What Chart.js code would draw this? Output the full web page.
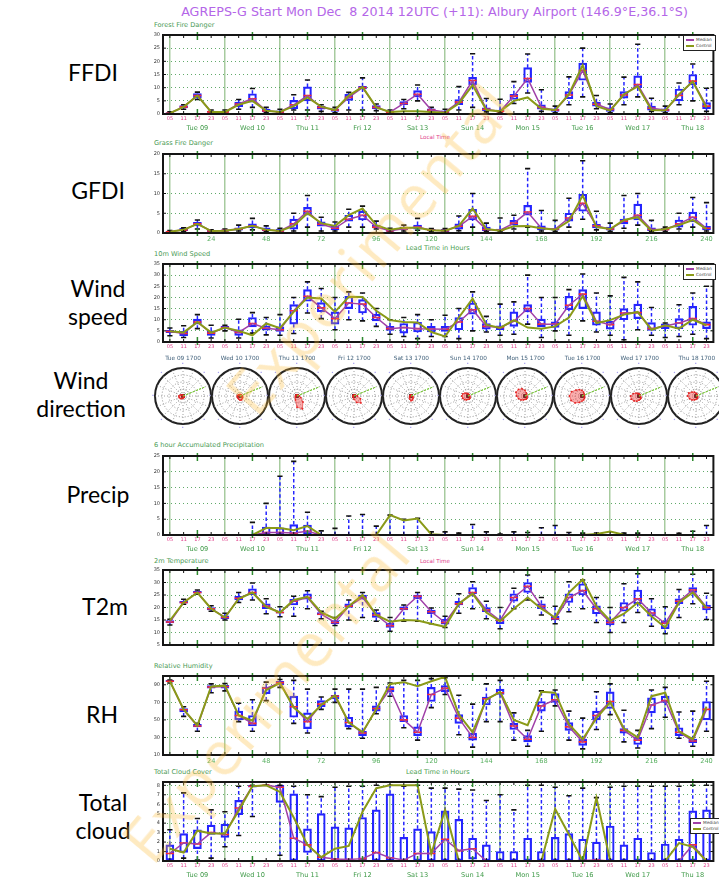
<!DOCTYPE html>
<html>
<head>
<meta charset="utf-8">
<script src="https://cdn.jsdelivr.net/npm/chart.js@4.4.1/dist/chart.umd.min.js"></script>
<style>
body{margin:0;width:719px;height:878px;background:#fff;position:relative;overflow:hidden;font-family:"DejaVu Sans",sans-serif}
canvas{position:absolute}
.t{position:absolute;white-space:nowrap}
.side{position:absolute;font-family:Lato,"Open Sans",sans-serif;font-size:23px;line-height:28px;color:#000;text-align:center;width:130px}
.sub{font-size:6.6px;color:#4a9a55}
.pink{font-size:5.6px;color:#e0408c}
.green{font-size:6.6px;color:#4aa050}
.ctit{font-size:5.8px;color:#40607a;text-align:center;width:60px}
.legend{position:absolute;background:#fff;border:1.5px solid #222;font-size:4.3px;color:#444;padding:1px 2px;line-height:6px;width:27px}
.legend span{display:inline-block;width:8px;height:1.5px;vertical-align:middle;margin-right:2px}
.wm{position:absolute;font-family:"Open Sans",sans-serif;font-size:62px;line-height:62px;color:rgba(253,186,50,0.3);transform-origin:0 100%;transform:rotate(-50deg);white-space:nowrap;letter-spacing:2px}
</style>
</head>
<body>
<div class="t" style="left:0;width:719px;text-align:center;top:4px;padding-left:150px;box-sizing:border-box;font-size:12.7px;color:#b466e8">AGREPS-G Start Mon Dec&nbsp; 8 2014 12UTC (+11): Albury Airport (146.9°E,36.1°S)</div>

<div class="side" style="left:28px;top:58px">FFDI</div>
<div class="side" style="left:33px;top:176px">GFDI</div>
<div class="side" style="left:33px;top:274px">Wind<br>speed</div>
<div class="side" style="left:16px;top:366px">Wind<br>direction</div>
<div class="side" style="left:33px;top:480px">Precip</div>
<div class="side" style="left:40px;top:592px">T2m</div>
<div class="side" style="left:37px;top:700px">RH</div>
<div class="side" style="left:38px;top:788px">Total<br>cloud</div>

<div class="t sub" style="left:154px;top:21px">Forest Fire Danger</div>
<div class="t sub" style="left:154px;top:139px">Grass Fire Danger</div>
<div class="t sub" style="left:154px;top:250px">10m Wind Speed</div>
<div class="t sub" style="left:154px;top:441px">6 hour Accumulated Precipitation</div>
<div class="t sub" style="left:154px;top:557px">2m Temperature</div>
<div class="t sub" style="left:154px;top:662px">Relative Humidity</div>
<div class="t sub" style="left:154px;top:768px">Total Cloud Cover</div>

<div class="t pink" style="left:420px;top:134px">Local Time</div>
<div class="t green" style="left:406px;top:244px">Lead Time in Hours</div>
<div class="t pink" style="left:420px;top:558px">Local Time</div>
<div class="t green" style="left:406px;top:768px">Lead Time in Hours</div>

<div id="root"></div>

<div class="legend" style="left:683px;top:35px"><div><span style="background:#a040a8"></span>Median</div><div><span style="background:#8a9a18"></span>Control</div></div>
<div class="legend" style="left:683px;top:264px"><div><span style="background:#a040a8"></span>Median</div><div><span style="background:#8a9a18"></span>Control</div></div>
<div class="legend" style="left:690px;top:818px"><div><span style="background:#a040a8"></span>Median</div><div><span style="background:#8a9a18"></span>Control</div></div>

<div class="wm" style="left:158px;top:810px">Experimental</div>
<div class="wm" style="left:262px;top:362px">Experimental</div>

<script>
// time axis: 6-hourly from lead 6h to 240h (local 05/11/17/23)
const localHours = ['05', '11', '17', '23'];
const dayLabels = ['Tue 09', 'Wed 10', 'Thu 11', 'Fri 12', 'Sat 13', 'Sun 14', 'Mon 15', 'Tue 16', 'Wed 17', 'Thu 18'];
const leadLabels = [24, 48, 72, 96, 120, 144, 168, 192, 216, 240];

// Forest fire danger
const ffdiMed = [0.3,2.7,7,0.8, 0.8,3.8,5.8,1.2, 0.8,3.5,7,2.5, 1.5,6.3,10,2.5, 0.7,4,7.5,1.5, 0.8,4.5,12.7,1.8, 1,6.8,13.5,2.5, 1.5,7.2,16.5,3.7, 1.7,7.2,11.2,2.2, 1.5,7,12.5,3];
const ffdiCtl = [0.3,2.7,7,0.8, 0.8,3.5,5,1.2, 0.8,3,6.3,2.8, 1.5,7,10.3,2.5, 0.8,1,1,0.8, 0.5,4,11,1.5, 1,5,6.3,2, 1.5,7.5,18.5,3, 1.3,7.5,10.5,1.5, 1.3,7.5,12.3,2.5];
const ffdiQ1 = [0.1,2.3,6,0.6, 0.6,2.8,4.5,0.8, 0.5,2,5,1.8, 1,5.2,9.5,2, 0.5,3.5,6.5,1, 0.5,3.5,11,1.3, 0.8,5.5,12,1.8, 1,5.8,12.8,3, 1,6,10,1.5, 1,5,11,2];
const ffdiQ3 = [0.5,3.2,7.8,1.1, 1.1,4.5,7.7,1.8, 1.2,5.2,10.3,3, 2,7.5,10.5,3.2, 1,4.7,8.9,2, 1.2,5.5,13.9,2.3, 1.5,7.5,17.6,3.5, 2,8.5,19.3,4.5, 2.3,8.5,14.5,3, 2,9.5,15,4.3];
const ffdiLo = [0,1.8,5.5,0.4, 0.4,1.8,2.5,0.5, 0.3,1.5,1.5,1, 0.5,1.5,1.5,1.3, 0.3,2,5,0.5, 0.3,1.5,2.5,0.8, 0.5,4,8,1, 0.5,3.5,6.5,2, 0.5,3.5,6.5,1, 0.5,3.5,5,1];
const ffdiHi = [0.8,3.5,8.3,1.5, 1.5,5.5,9.7,2.5, 1.8,7.3,12.9,3.5, 2.5,8.2,13.7,3.8, 1.5,5.5,11,2.5, 1.8,10.4,22.9,5.9, 5.6,12.3,22.8,9.2, 3,14.1,25,7, 3.8,14,26.5,6, 3,11.8,19,9.8];

// Grass fire danger
const gfdiMed = [0.3,0.8,2.3,0.5, 0.6,1,1.8,0.8, 0.5,2.3,5.5,2.2, 1.2,3.5,4.5,1.5, 0.6,1.1,1.5,0.7, 0.6,1.7,4.2,0.9, 0.7,2.5,5.3,1.2, 1,3.8,7.5,1.8, 1,3,4.5,0.9, 0.9,2.3,4,1.2];
const gfdiCtl = [0.3,0.8,2.3,0.5, 0.6,1,1.8,0.8, 0.5,1.8,5,2.5, 1.8,4.5,6.2,2, 0.8,1.3,1.3,0.7, 0.6,1.8,6.2,1, 0.6,1.7,1.8,1.2, 0.8,3,9.5,1.5, 1,3.3,4,0.6, 1,2,3.3,1];
const gfdiQ1 = [0.1,0.6,1.8,0.3, 0.4,0.7,1.3,0.5, 0.3,1,4.5,1.7, 0.8,3,3.3,1.3, 0.4,0.8,1,0.5, 0.3,1,3.3,0.6, 0.5,2,4.5,0.8, 0.7,3,5.5,1.3, 0.7,2.3,3.3,0.6, 0.7,1.5,2.8,0.8];
const gfdiQ3 = [0.5,1.2,2.7,0.7, 0.8,1.3,2.3,1.3, 1,3.5,6.5,2.8, 1.8,4.5,5.5,2, 0.8,1.5,2,0.9, 0.9,2.3,6,1.5, 1,3.2,7,1.8, 1.2,5,9.8,2.2, 1.5,3.5,7.3,1.3, 1.2,3.3,5.3,1.7];
const gfdiLo = [0,0.4,1,0.2, 0.3,0.5,0.8,0.3, 0.2,0.5,1.5,0.5, 0.5,1.5,1.5,1, 0.3,0.5,0.7,0.3, 0.1,0.6,1.5,0.4, 0.3,1,1.5,0.5, 0.4,1.5,3.5,0.8, 0.4,1.2,2,0.4, 0.4,1,1.5,0.5];
const gfdiHi = [0.6,1.3,3.3,0.8, 1,2,3.7,1.8, 1.2,5,9.5,4, 2.8,6,6.8,3, 1.2,2,3.7,1.1, 1.1,4.3,10,2.5, 3.8,4.5,16.3,5.7, 3.2,8.8,18.3,5.5, 2.5,9.5,10,3.2, 1.5,5,9,7.7];

// 10m wind speed
const windMed = [4.7,3.8,9,4, 6.5,4.3,8.3,6.2, 5.5,14,20.5,15.3, 10.5,17.5,17,11, 6,6.5,6,5.8, 5.7,9,14.5,7, 6.5,9.3,15,8, 8,16.5,21.5,9.3, 7.8,13,13.2,6, 7.2,8.5,10.5,7.8];
const windCtl = [4.8,4.3,9,4.2, 6.5,5,3,8.3, 6.2,13.5,20,19.5, 13.5,20.3,20.2,14, 9.8,9,8.8,4.5, 2.5,11,19.5,7.8, 6.3,9.8,6.5,6, 7,11,20.5,8.5, 9.8,12.3,13.5,5.5, 7.5,6,10,7.5];
const windQ1 = [4.2,2.8,8,3, 6,3,6.8,5.3, 4.8,8,18.3,13.5, 8,15,13,9.5, 5.2,4,4.5,4.5, 4.8,5.5,12.5,5.8, 5.5,7,13.5,6.8, 6.5,14.5,15,7.5, 5.8,10,10.5,5.2, 6,6,7.5,6];
const windQ3 = [5.2,4.8,10.3,5, 7,5.5,11,7.3, 6.8,16.8,23.5,17.7, 13.5,20.5,19,12.5, 7,8.3,8.8,7, 7,11,17.5,8.3, 7.2,13.5,16.8,10.3, 9,20.5,23.5,13.5, 9.3,15,17,8.7, 8.2,10.5,16,9];
const windLo = [2.8,2,6,1.8, 5,1.8,4,3.2, 3,3.8,13,10.5, 5.5,10,9.5,7, 3.5,2.5,1.5,2.5, 2.5,1.5,5,4.5, 3,3.5,8,2, 5,3,9.5,4.5, 3,1,5.5,3, 2,2.5,3.5,1.5];
const windHi = [6.3,7.3,12.3,7.5, 7.5,10.2,13.2,11, 12.3,20,27,24, 20,22.5,22,15, 10,11,12.3,10, 12,15,22.5,11.5, 17,18,30,20, 20,23.5,30.5,22, 20.7,29,27,15.5, 8.5,16.7,22,25];

// wind direction: ensemble spread radius per compass point (N, NNE, ... NNW), one row per day at 1700
const compass = ['N','NNE','NE','ENE','E','ESE','SE','SSE','S','SSW','SW','WSW','W','WNW','NW','NNW'];
const dirSpread = [
  [0.03,0.02,0.02,0.02,0.04,0.05,0.05,0.06,0.08,0.1,0.13,0.15,0.15,0.1,0.05,0.03],
  [0.05,0.05,0.05,0.06,0.08,0.1,0.12,0.15,0.15,0.12,0.1,0.1,0.1,0.08,0.06,0.05],
  [0.04,0.04,0.04,0.05,0.08,0.15,0.3,0.5,0.4,0.15,0.08,0.06,0.05,0.05,0.04,0.04],
  [0.03,0.03,0.04,0.06,0.12,0.25,0.35,0.25,0.12,0.06,0.04,0.03,0.03,0.03,0.03,0.03],
  [0.03,0.03,0.03,0.04,0.05,0.07,0.1,0.15,0.17,0.12,0.07,0.05,0.04,0.04,0.03,0.03],
  [0.08,0.06,0.05,0.05,0.06,0.07,0.1,0.12,0.12,0.15,0.18,0.2,0.22,0.2,0.15,0.1],
  [0.2,0.12,0.08,0.06,0.06,0.08,0.1,0.12,0.12,0.15,0.2,0.25,0.3,0.35,0.33,0.28],
  [0.2,0.15,0.1,0.08,0.08,0.1,0.12,0.15,0.18,0.25,0.35,0.42,0.45,0.4,0.3,0.25],
  [0.08,0.06,0.05,0.05,0.05,0.06,0.1,0.12,0.15,0.2,0.25,0.3,0.3,0.22,0.15,0.1],
  [0.1,0.08,0.05,0.05,0.05,0.06,0.08,0.1,0.12,0.15,0.2,0.25,0.3,0.28,0.2,0.15]
];
const dirArrow = [0,0,0,0.85,0,0,0,0,0,0,0,0,0,0,0,0];

// 6 hour accumulated precipitation
const precMed = [0,0,0,0, 0,0,0,0.8, 0.8,0.6,1.2,0, 0,0,0,0, 0,0,0,0, 0,0,0,0, 0,0,0,0, 0,0,0,0, 0,0,0,0, 0,0,0,0];
const precCtl = [0,0,0,0, 0,0,0,2.2, 2.2,1.5,2.8,0, 0,0,0,0, 6.3,4.6,5.2,0.2, 0,0,0,0, 0,0,0,0, 0,0,0,0.3, 1.1,0.1,0,0, 0,0,0,0];
const precQ1 = [null,null,null,null, null,null,null,0, 0,0,0.3,null, null,null,null,null, null,null,null,null, null,null,null,null, null,null,null,null, null,null,null,null, null,null,null,null, null,null,null,null];
const precQ3 = [null,null,null,null, null,null,null,2.5, 2.3,3.3,3.1,null, null,null,null,null, null,null,null,null, null,null,null,null, null,null,null,null, null,null,null,null, null,null,null,null, null,null,null,null];
const precLo = [0,0,0,0, 0,0,0,0, 0,0,0,0, 0,0,0,0, 0,0,0,0, 0,0,0,0, 0,0,0,0, 0,0,0,0, 0,0,0,0, 0,0,0,0];
const precHi = [0,0,0,0, 0,0,4,10, 18.6,23.3,7.2,1.3, 2.1,6,6.5,2.8, 6.3,5,5.3,1, 1,0.6,3.3,1, 0.3,1,0.8,2.3, 3,0.8,0.6,0.6, 0,0.6,0.6,0, 0,0.5,1.2,3];

// 2m temperature
const t2mMed = [14.2,22,26,19.5, 16,23.7,26,20.5, 18,22.5,24,17.3, 14,20.5,24,17, 12.7,19.5,24.5,18.3, 14,21.5,26,19, 14.8,24,28.5,20.5, 15.5,24,26.8,19.5, 14,20,23.5,17.8, 13.7,22.5,27,20];
const t2mCtl = [14.8,22,26,19.5, 16,23.5,26,20.2, 18,23,24.3,18, 15.5,20.5,25,17, 14.3,15,14.8,13.5, 12.3,21.5,25.5,18, 14.5,19.5,24,19.5, 16,26,31.2,20.5, 14.7,17.5,22,16.5, 12,22,26,19.8];
const t2mQ1 = [13.8,21.7,25.7,19, 15.5,23,25,19.5, 17.7,21,23.3,17, 13.5,20,23.3,16, 12,19,23.5,17.5, 13.3,21,25.5,18.3, 13.5,22.5,26,19.5, 15,22,25,17.5, 13,18.5,21.5,16.5, 11.5,21.5,26,19];
const t2mQ3 = [14.8,22.5,26.5,20, 16.7,24.5,27.5,21.5, 18.3,23.3,25.5,18, 14.8,21.5,25,18, 13.8,20.3,25,19, 15.3,22.5,28,20, 15.5,25.5,30,21.5, 16.5,25.5,29.5,20.7, 15,22,27,19.5, 14.5,23.5,28,21];
const t2mLo = [13,21.3,25.3,18.5, 15,22,23,17.5, 16.3,16.5,19.5,15.5, 12.8,15,16,14.5, 10.5,14.5,14.5,13.5, 12,17.7,19.5,15.5, 11.5,19.5,23,17, 13.5,18.3,19.5,14, 10,14,18,12.5, 9.5,16,21.5,15.2];
const t2mHi = [15.3,23.3,27,20.7, 17.7,26,29.8,23.5, 20.3,24.5,26.7,18.5, 16,23,26,19, 16,21,26,19.8, 16.5,25.5,30.3,22.5, 20,27.7,33,24, 20.5,30.3,31,24, 20,29.5,33.5,23.5, 20.3,27.2,33.3,25.7];

// relative humidity
const rhMed = [94,61.5,43,87.5, 88,55,46,86, 92.5,65,48,68, 77,47,35,63, 85,50,36,79, 86,52,30,74, 81,43,28,66, 73,42,25,55, 71,38,27,67, 72,36,26,62];
const rhCtl = [94,62,43.5,88, 89,55,49,84, 92,64,51,67, 78,47,36,62, 91,93,88.5,94, 99,56,36,73, 82,50,44,82, 81,45,28,52, 70,40,30,77, 81,37,28,65];
const rhQ1 = [93.5,59,42,86, 86,50,43,80, 90,53,40,65, 74,42,32,60, 82,48,32,71, 82,46,27,67, 79,39,25,60, 70,38,21,50, 63,35,22,58, 70,32,24,50];
const rhQ3 = [95,63,45,89, 89.5,60,55,87.5, 94,77,58,72, 78,53,37,66, 88,55,42,87, 89,56,35,76, 85,46,32,71, 80,47,28,60, 82,40,30,75, 77,41,28,71];
const rhLo = [92,54,37,81, 83,48,37,72, 87,46,35,62, 70,40,29,57, 77,41,27,64, 79,33,19,48, 48,27,20,37, 66,27,17,39, 56,25,18,40, 53,29,20,37];
const rhHi = [95.5,65,46,91, 91.5,69,73,93, 96,95,85,76, 85,85,85,87, 92,95,95,97, 98,78,68,91, 95,58,38,83, 84,60,52,82, 91,61,38,84, 87,59,60,94];

// total cloud cover (octas)
const cldMed = [0.8,1.9,1.8,3, 2.8,5.6,7.9,8, 7.8,2.4,1.7,0.4, 0.2,0.15,0.25,0.9, 0.35,0.1,0.8,0.8, 2.3,1.1,1.3,0, 0,0,0,0, 0,0,0.05,0.1, 0,0,0,0, 0,0,1.7,0];
const cldCtl = [1.3,0.9,3.2,2.9, 2.9,5.3,7.9,8, 7.3,4.6,1.7,0.4, 1.3,1.6,5.2,7.7, 8,8,8,0.8, 5.4,0,0,0, 0,0,0,0, 5.5,2.8,0,6.7, 0,0,0,0, 0,1.9,1.5,0];
const cldQ1 = [0.1,0.9,1.3,2.8, 2.5,4.9,7.8,8, 6.2,0,0.9,0, 0,0,0,0, 0,0,0,0, 0,0,0.2,0, 0,0,0,0, 0,0,0,0, 0,0,0,0, 0,0,0,0];
const cldQ3 = [1.7,2.9,3.3,3.8, 3.9,6.4,8,8, 8,7.1,3.4,5, 3.6,3.5,4.6,5.4, 7.1,2.5,3.4,3.1, 5.3,4.4,2.4,1.7, 1,1,2.4,1, 2.5,2.9,2.3,2, 3.7,1.7,2.4,0.9, 1.8,2.3,5.3,5.4];
const cldLo = [0,0.3,0.1,0.3, 1.5,2.7,4.7,8, 0.6,0,0,0, 0,0,0,0, 0,0,0,0, 0,0,0,0, 0,0,0,0, 0,0,0,0, 0,0,0,0, 0,0,0,0];
const cldHi = [3.3,7.2,4.5,5.4, 5.2,7.9,8,8, 8,7.9,7,6.8, 7.8,7.9,7.9,8, 8,7.9,8,7.7, 7.7,7.6,7.5,6.4, 7,5.4,8,8, 7.8,6.9,7.7,6.7, 7.8,7.9,7.9,7.9, 7.9,7.9,8,8];

const leads = [];
for (let h = 6; h <= 240; h += 6) leads.push(h);
const dayCenters = dayLabels.map((d, k) => 18 + 24 * k);

const PINK = '#e0408c', GREEN = '#3f9a48', BLUE = '#2424ff';
const DAYLINE = 'rgba(95,160,80,0.55)';

// matplotlib-like frame with inward ticks
const frameTicks = {
  id: 'frameTicks',
  afterDatasetsDraw(chart) {
    const {ctx, chartArea: a, scales} = chart;
    const x = scales.x, y = scales.y;
    ctx.save();
    leads.forEach(v => {
      const px = x.getPixelForValue(v);
      const major = (v - 18) % 24 === 0;
      ctx.strokeStyle = major ? '#2e8a2e' : '#111';
      ctx.lineWidth = major ? 1.5 : 1;
      ctx.beginPath();
      ctx.moveTo(px, a.top - (major ? 3 : 0)); ctx.lineTo(px, a.top + (major ? 5 : 3));
      ctx.moveTo(px, a.bottom + (major ? 3 : 0)); ctx.lineTo(px, a.bottom - (major ? 5 : 3));
      ctx.stroke();
    });
    ctx.strokeStyle = '#111'; ctx.lineWidth = 1;
    y.ticks.forEach(t => {
      const py = y.getPixelForValue(t.value);
      ctx.beginPath();
      ctx.moveTo(a.left, py); ctx.lineTo(a.left + 3, py);
      ctx.moveTo(a.right, py); ctx.lineTo(a.right - 3, py);
      ctx.stroke();
    });
    ctx.lineWidth = 2; ctx.strokeStyle = '#151515';
    ctx.strokeRect(a.left, a.top, a.right - a.left, a.bottom - a.top);
    ctx.restore();
  }
};

function makeCanvas(left, top, w, h) {
  const c = document.createElement('canvas');
  c.width = w; c.height = h;
  c.style.left = left + 'px'; c.style.top = top + 'px';
  c.style.width = w + 'px'; c.style.height = h + 'px';
  document.getElementById('root').appendChild(c);
  return c;
}

function panel(p) {
  const padTop = 4;
  const hourH = p.mode === 'none' ? 0 : 9;
  const dayH = p.mode === 'local' ? 10 : 0;
  const h = padTop + (p.bottom - p.top) + hourH + dayH;
  const cv = makeCanvas(140, p.top - padTop, 579, h);

  const boxes = [], whisk = [], caps = [], meds = [], medLine = [], ctlLine = [];
  leads.forEach((v, i) => {
    if (p.q1[i] !== null && p.q3[i] !== null) boxes.push({x: v, y: [p.q1[i], p.q3[i]]});
    const lowEnd = p.q1[i] !== null ? p.q1[i] : p.med[i];
    const highEnd = p.q3[i] !== null ? p.q3[i] : p.med[i];
    if (p.lo[i] < lowEnd) whisk.push({x: v, y: p.lo[i]}, {x: v, y: lowEnd}, {x: v, y: null});
    if (p.hi[i] > highEnd) whisk.push({x: v, y: highEnd}, {x: v, y: p.hi[i]}, {x: v, y: null});
    caps.push({x: v, y: p.lo[i]}, {x: v, y: p.hi[i]});
    meds.push({x: v, y: p.med[i]});
    medLine.push({x: v, y: p.med[i]});
    ctlLine.push({x: v, y: p.ctl[i]});
  });

  const yTicks = [];
  for (let t = p.min; t <= p.max + 1e-9; t += p.step) yTicks.push(t);

  const base = {type: 'linear', min: 3, max: 243, offset: false, border: {display: false}};
  const scales = {
    x: Object.assign({}, base, {
      position: 'bottom', weight: 0,
      afterBuildTicks: s => { s.ticks = leads.map(v => ({value: v})); },
      afterFit: s => { s.height = hourH; },
      grid: {offset: false, drawTicks: false, lineWidth: 1.5,
        color: c => (c.tick && (c.tick.value - 6) % 24 === 0) ? DAYLINE : 'rgba(0,0,0,0)'},
      ticks: {display: p.mode !== 'none', autoSkip: false, maxRotation: 0, padding: 2,
        font: {size: p.mode === 'lead' ? 6.6 : 5, family: 'DejaVu Sans'},
        color: p.mode === 'lead' ? '#58b060' : PINK,
        callback: (v, i) => p.mode === 'lead'
          ? (leadLabels.includes(v) ? String(v) : '')
          : localHours[i % 4]}
    }),
    y: {
      min: p.min, max: p.max,
      afterBuildTicks: s => { s.ticks = yTicks.map(v => ({value: v})); },
      afterFit: s => { s.width = 23; },
      border: {display: false, dash: [1, 3]},
      grid: {drawTicks: false, lineWidth: 0.9,
        color: c => (c.tick && c.tick.value > p.min && c.tick.value < p.max) ? 'rgba(60,150,70,0.9)' : 'rgba(0,0,0,0)'},
      ticks: {font: {size: 5, family: 'DejaVu Sans'}, color: '#333', padding: 3}
    }
  };
  if (p.mode === 'local') {
    scales.xd = Object.assign({}, base, {
      position: 'bottom', weight: 1,
      afterBuildTicks: s => { s.ticks = dayCenters.map(v => ({value: v})); },
      afterFit: s => { s.height = dayH; },
      grid: {display: false, drawTicks: false},
      ticks: {autoSkip: false, maxRotation: 0, padding: 1,
        font: {size: 6.6, family: 'DejaVu Sans'}, color: GREEN,
        callback: (v, i) => dayLabels[i]}
    });
  }

  new Chart(cv, {
    type: 'bar',
    data: {
      datasets: [
        {type: 'line', data: ctlLine, borderColor: '#8a9a18', borderWidth: 2, pointRadius: 0, order: 0},
        {type: 'line', data: medLine, borderColor: '#a040a8', borderWidth: 1.5, pointRadius: 0, order: 1},
        {type: 'scatter', data: meds, pointStyle: 'line', pointRadius: 4, borderColor: '#ff2a2a',
         pointBorderWidth: 1.6, order: 2},
        {type: 'scatter', data: caps, pointStyle: 'line', pointRadius: 2.6, borderColor: '#111',
         pointBorderWidth: 1.6, order: 3},
        {type: 'line', data: whisk, borderColor: BLUE, borderWidth: 1.5, borderDash: [3.5, 2.5],
         pointRadius: 0, spanGaps: false, order: 4},
        {type: 'bar', data: boxes, barThickness: 8, borderColor: BLUE, borderWidth: 1.5,
         borderSkipped: false, backgroundColor: 'rgba(0,0,0,0)', order: 5}
      ]
    },
    options: {
      animation: false, responsive: false, devicePixelRatio: 1,
      layout: {padding: {top: padTop, right: 2, left: 0, bottom: 0}},
      plugins: {legend: {display: false}, tooltip: {enabled: false}},
      scales: scales
    },
    plugins: [frameTicks]
  });
}

panel({top: 33, bottom: 114, min: 0, max: 30, step: 5, mode: 'local',
  med: ffdiMed, ctl: ffdiCtl, q1: ffdiQ1, q3: ffdiQ3, lo: ffdiLo, hi: ffdiHi});
panel({top: 152, bottom: 233, min: 0, max: 20, step: 5, mode: 'lead',
  med: gfdiMed, ctl: gfdiCtl, q1: gfdiQ1, q3: gfdiQ3, lo: gfdiLo, hi: gfdiHi});
panel({top: 262, bottom: 342, min: 0, max: 35, step: 5, mode: 'hours',
  med: windMed, ctl: windCtl, q1: windQ1, q3: windQ3, lo: windLo, hi: windHi});
panel({top: 454, bottom: 535, min: 0, max: 25, step: 5, mode: 'local',
  med: precMed, ctl: precCtl, q1: precQ1, q3: precQ3, lo: precLo, hi: precHi});
panel({top: 568, bottom: 651, min: 5, max: 35, step: 5, mode: 'none',
  med: t2mMed, ctl: t2mCtl, q1: t2mQ1, q3: t2mQ3, lo: t2mLo, hi: t2mHi});
panel({top: 674, bottom: 755, min: 10, max: 100, step: 10, mode: 'lead',
  med: rhMed, ctl: rhCtl, q1: rhQ1, q3: rhQ3, lo: rhLo, hi: rhHi});
panel({top: 780, bottom: 861, min: 0, max: 8.35, step: 1, mode: 'local',
  med: cldMed, ctl: cldCtl, q1: cldQ1, q3: cldQ3, lo: cldLo, hi: cldHi});

// wind direction roses, one per day at 1700 local
const roseSize = 71, roseY = 396;
dayLabels.forEach((d, k) => {
  const cx = 183 + 57.1 * k;
  const t = document.createElement('div');
  t.className = 't ctit';
  t.style.left = (cx - 30) + 'px'; t.style.top = '355px';
  t.textContent = d + ' 1700';
  document.body.appendChild(t);

  const cv = makeCanvas(Math.round(cx - roseSize / 2), Math.round(roseY - roseSize / 2), roseSize, roseSize);
  new Chart(cv, {
    type: 'radar',
    data: {
      labels: compass,
      datasets: [
        {data: dirArrow, borderColor: '#7ccc3a', borderWidth: 1, borderDash: [2, 1.5], pointRadius: 0, fill: false},
        {data: dirSpread[k], borderColor: 'rgba(230,40,40,0.75)', backgroundColor: 'rgba(245,70,70,0.45)',
         fill: true, borderWidth: 0.8, pointRadius: 0.9, pointBackgroundColor: '#e52222', pointBorderWidth: 0},
        {data: compass.map(() => 0), pointRadius: 1.7, pointBackgroundColor: '#111', pointBorderWidth: 0,
         borderWidth: 0}
      ]
    },
    options: {
      animation: false, responsive: false, devicePixelRatio: 1,
      layout: {padding: 0},
      plugins: {legend: {display: false}, tooltip: {enabled: false}},
      scales: {
        r: {
          min: 0, max: 1,
          ticks: {display: false, stepSize: 0.25},
          grid: {circular: true,
            color: c => c.index === 4 ? '#222' : '#666',
            lineWidth: c => c.index === 4 ? 2 : 0.7},
          border: {dash: c => c.index === 4 ? [] : [1, 2]},
          angleLines: {color: '#777', lineWidth: 0.7, borderDash: [1, 2]},
          pointLabels: {display: true, padding: 1, font: {size: 5}, color: '#aaa2f0',
            callback: (l, i) => i % 2 === 0 ? '▪' : ''}
        }
      }
    }
  });
});
</script>
</body>
</html>
